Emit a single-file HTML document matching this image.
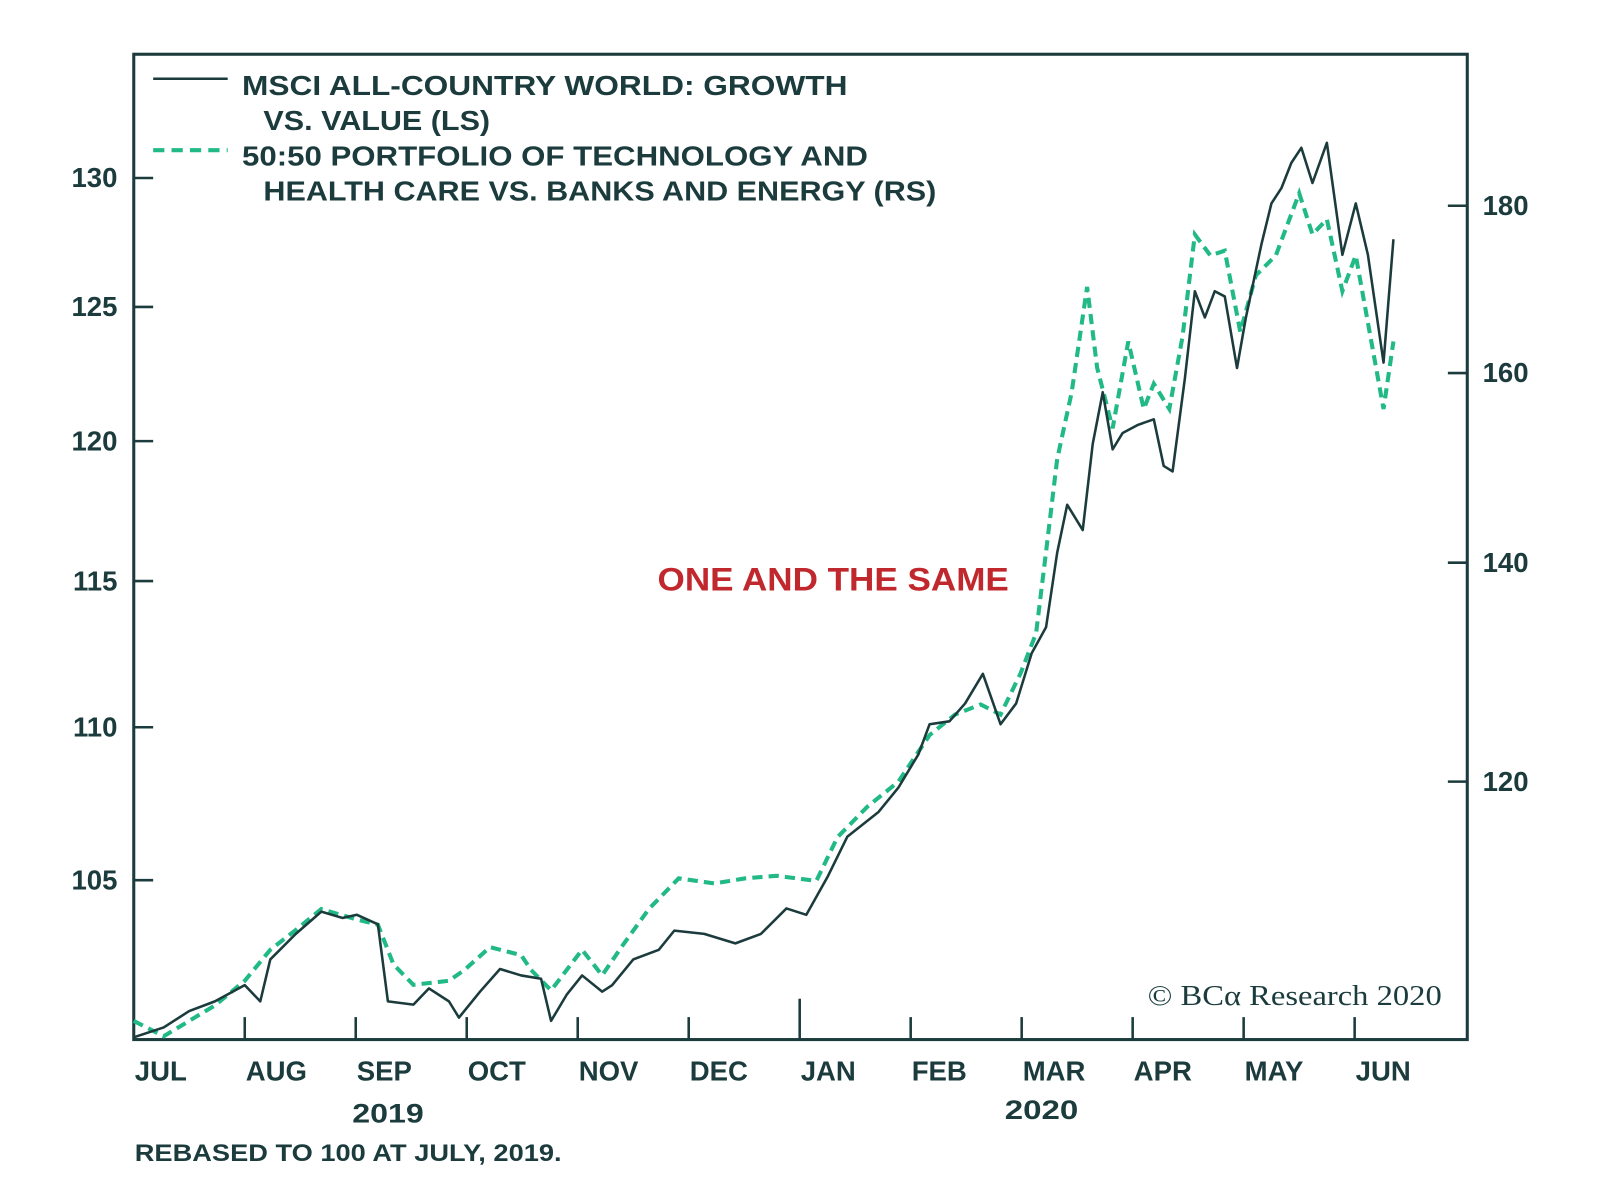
<!DOCTYPE html>
<html><head><meta charset="utf-8"><style>
html,body{margin:0;padding:0;background:#fff;}
svg{display:block;font-family:"Liberation Sans",sans-serif;}
</style></head><body>
<svg id="chart" width="1600" height="1200" viewBox="0 0 1567 1175" xmlns="http://www.w3.org/2000/svg">
<rect x="131" y="53" width="1306" height="965" fill="none" stroke="#1b3b3d" stroke-width="3"/>
<g id="axes"></g>
<g id="series"></g>
<g fill="#1b3b3d" font-size="27" font-weight="bold">
<line x1="150" y1="77" x2="223" y2="77" stroke="#1b3b3d" stroke-width="2.5"/>
<text x="237" y="93" textLength="593" lengthAdjust="spacingAndGlyphs">MSCI ALL-COUNTRY WORLD: GROWTH</text>
<text x="258" y="127" textLength="222" lengthAdjust="spacingAndGlyphs">VS. VALUE (LS)</text>
<line x1="150" y1="147" x2="223" y2="147" stroke="#21b985" stroke-width="4" stroke-dasharray="11,7"/>
<text x="237" y="162" textLength="613" lengthAdjust="spacingAndGlyphs">50:50 PORTFOLIO OF TECHNOLOGY AND</text>
<text x="258" y="196" textLength="659" lengthAdjust="spacingAndGlyphs">HEALTH CARE VS. BANKS AND ENERGY (RS)</text>
</g>
<text x="644" y="578" textLength="344" lengthAdjust="spacingAndGlyphs" fill="#c0282d" font-size="32" font-weight="bold">ONE AND THE SAME</text>
<text x="1124" y="984" textLength="288" lengthAdjust="spacingAndGlyphs" fill="#1b3b3d" font-size="28" font-family="Liberation Serif, serif">© BCα Research 2020</text>
<text x="132" y="1137" textLength="418" lengthAdjust="spacingAndGlyphs" fill="#1b3b3d" font-size="24" font-weight="bold">REBASED TO 100 AT JULY, 2019.</text>
<text x="345" y="1099" textLength="70" lengthAdjust="spacingAndGlyphs" fill="#1b3b3d" font-size="26" font-weight="bold">2019</text>
<text x="984" y="1096" textLength="72" lengthAdjust="spacingAndGlyphs" fill="#1b3b3d" font-size="26" font-weight="bold">2020</text>
</svg>
<script>
const months = ["JUL","AUG","SEP","OCT","NOV","DEC","JAN","FEB","MAR","APR","MAY","JUN"];
const leftTicks = [105,110,115,120,125,130];
const rightTicks = [120,140,160,180];
const growthT = [0,.27,.50,.73,1.00,1.14,1.23,1.46,1.69,1.88,2.01,2.20,2.29,2.52,2.66,2.84,2.93,3.12,3.30,3.49,3.67,3.76,3.90,4.04,4.22,4.31,4.50,4.73,4.87,5.14,5.42,5.65,5.88,6.06,6.25,6.43,6.71,6.89,7.07,7.17,7.35,7.49,7.65,7.81,7.95,8.09,8.22,8.32,8.41,8.55,8.64,8.73,8.82,8.91,9.05,9.19,9.28,9.36,9.47,9.56,9.65,9.74,9.83,9.94,10.02,10.16,10.25,10.34,10.43,10.52,10.62,10.75,10.89,11.01,11.12,11.26,11.35];
const growthV = [100.1,100.4,100.9,101.2,101.7,101.2,102.5,103.3,104.0,103.8,103.9,103.6,101.2,101.1,101.6,101.2,100.7,101.5,102.2,102.0,101.9,100.6,101.4,102.0,101.5,101.7,102.5,102.8,103.4,103.3,103.0,103.3,104.1,103.9,105.1,106.4,107.2,108.0,109.1,110.1,110.2,110.8,111.8,110.1,110.8,112.5,113.4,116.0,117.7,116.8,119.9,121.8,119.7,120.3,120.6,120.8,119.1,118.9,122.3,125.6,124.6,125.6,125.4,122.7,124.6,127.4,129.0,129.6,130.6,131.2,129.8,131.4,127.0,129.0,127.0,122.9,127.6];
const techT = [0,.27,.50,.73,1.00,1.23,1.46,1.69,2.01,2.20,2.34,2.52,2.84,2.98,3.21,3.49,3.58,3.76,4.04,4.22,4.41,4.64,4.91,5.23,5.51,5.79,6.15,6.34,6.61,6.89,7.17,7.40,7.63,7.81,7.99,8.13,8.22,8.32,8.45,8.59,8.68,8.82,8.96,9.10,9.19,9.33,9.45,9.56,9.70,9.83,9.97,10.11,10.29,10.50,10.62,10.75,10.89,11.01,11.26,11.35];
const techV = [101.4,100.3,101.4,102.5,104.3,106.6,108.1,109.7,108.9,108.5,105.5,104.0,104.3,105.1,106.8,106.2,105.1,103.6,106.6,104.7,107.0,109.7,112.1,111.7,112.1,112.3,111.9,115.4,117.9,120.0,124.0,125.8,126.7,125.8,129.5,133.2,141.1,150.6,157.8,170.0,160.6,153.9,163.6,156.0,158.8,156.0,164.2,176.4,173.8,174.4,164.7,171.4,173.8,181.6,176.4,178.3,169.5,173.8,156.0,163.6];

const NS="http://www.w3.org/2000/svg";
const X0=131, MW=108.7, YB=1019;
const xOf = t => X0 + t*MW;
const yL = v => YB - Math.log(v/100)*3220;
const yR = v => YB - Math.log(v/100)*1391;
const ink="#1b3b3d";
function mk(tag, attrs, parent){const e=document.createElementNS(NS,tag);for(const k in attrs)e.setAttribute(k,attrs[k]);parent.appendChild(e);return e;}
const axes=document.getElementById('axes'), series=document.getElementById('series');

months.forEach((m,i)=>{
  const x=xOf(i);
  if(i>0){
    const tk=mk('line',{x1:x,x2:x,y1:1018,y2:m==="JAN"?978:996,stroke:ink,'stroke-width':2.5},axes);
    
    
  }
  const lb=mk('text',{x:x+1,y:1058,fill:ink,'font-size':27,'font-weight':'bold'},axes);
  lb.textContent=m;
  
  
});
leftTicks.forEach(v=>{
  const y=yL(v);
  const tk=mk('line',{x1:131,x2:150,y1:y,y2:y,stroke:ink,'stroke-width':2.5},axes);
  
  
  const lb=mk('text',{x:115,y:y+9,fill:ink,'font-size':27,'font-weight':'bold','text-anchor':'end'},axes);
  lb.textContent=v;
  
  
});
rightTicks.forEach(v=>{
  const y=yR(v);
  const tk=mk('line',{x1:1418,x2:1437,y1:y,y2:y,stroke:ink,'stroke-width':2.5},axes);
  
  
  const lb=mk('text',{x:1452,y:y+9,fill:ink,'font-size':27,'font-weight':'bold'},axes);
  lb.textContent=v;
  
  
});
const dT=techT.map((t,i)=>xOf(t).toFixed(1)+','+yR(techV[i]).toFixed(1)).join(' ');
const pT=mk('polyline',{points:dT,fill:'none',stroke:'#21b985','stroke-width':4,'stroke-dasharray':'10,6'},series);


const dG=growthT.map((t,i)=>xOf(t).toFixed(1)+','+yL(growthV[i]).toFixed(1)).join(' ');
const pG=mk('polyline',{points:dG,fill:'none',stroke:ink,'stroke-width':2.5,'stroke-linejoin':'round'},series);


</script>
</body></html>
